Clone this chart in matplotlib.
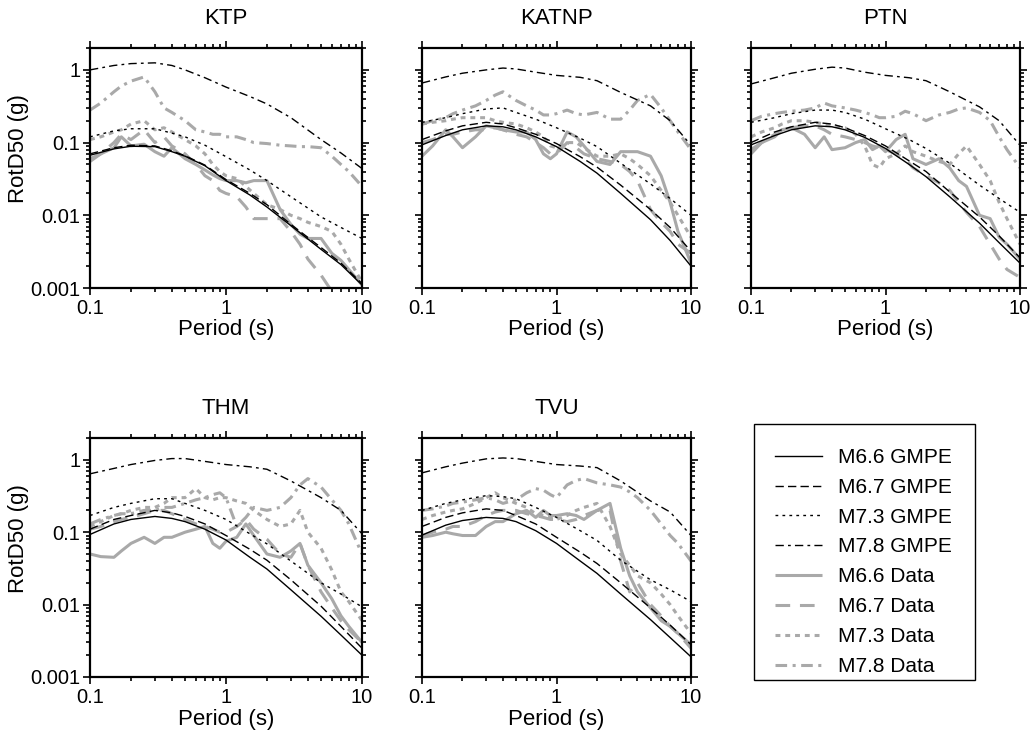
import numpy as np
import matplotlib
matplotlib.use("Agg")
import matplotlib.pyplot as plt
from matplotlib.lines import Line2D
from matplotlib.patches import Rectangle
from matplotlib.ticker import LogLocator, FixedLocator, FixedFormatter, NullFormatter

plt.rcParams["font.family"] = ["Liberation Sans", "DejaVu Sans"]

""" Data read off the figure """

stations = ["KTP", "KATNP", "PTN", "THM", "TVU"]

# period grid for the GMPE curves (s)
t_gmpe = [0.1, 0.15, 0.2, 0.3, 0.4, 0.5, 0.7, 1.0, 1.5, 2.0, 3.0, 5.0, 7.0, 10.0]

ktp_g66 = [0.067, 0.082, 0.089, 0.088, 0.075, 0.065, 0.048, 0.030, 0.019, 0.013, 0.0072, 0.0034, 0.0021, 0.0011]
ktp_g67 = [0.070, 0.085, 0.092, 0.090, 0.077, 0.066, 0.049, 0.031, 0.020, 0.014, 0.0075, 0.0036, 0.0022, 0.00115]
ktp_g73 = [0.12, 0.145, 0.155, 0.155, 0.135, 0.12, 0.092, 0.064, 0.042, 0.030, 0.018, 0.0095, 0.0068, 0.0048]
ktp_g78 = [1.0, 1.15, 1.22, 1.25, 1.15, 1.0, 0.78, 0.58, 0.43, 0.34, 0.22, 0.11, 0.072, 0.044]

katnp_g66 = [0.093, 0.125, 0.15, 0.17, 0.165, 0.15, 0.12, 0.088, 0.055, 0.038, 0.020, 0.0087, 0.0045, 0.0020]
katnp_g67 = [0.11, 0.145, 0.17, 0.19, 0.18, 0.16, 0.13, 0.097, 0.064, 0.046, 0.026, 0.012, 0.0068, 0.0032]
katnp_g73 = [0.19, 0.22, 0.25, 0.29, 0.30, 0.26, 0.21, 0.16, 0.115, 0.088, 0.052, 0.027, 0.017, 0.010]
katnp_g78 = [0.66, 0.80, 0.90, 1.0, 1.06, 1.03, 0.93, 0.84, 0.79, 0.71, 0.49, 0.32, 0.20, 0.092]

ptn_g66 = [0.093, 0.125, 0.15, 0.17, 0.165, 0.15, 0.118, 0.083, 0.050, 0.034, 0.018, 0.0078, 0.0042, 0.0022]
ptn_g67 = [0.10, 0.14, 0.165, 0.19, 0.18, 0.16, 0.125, 0.09, 0.056, 0.040, 0.021, 0.0095, 0.0052, 0.0026]
ptn_g73 = [0.19, 0.22, 0.25, 0.28, 0.28, 0.26, 0.21, 0.155, 0.11, 0.083, 0.052, 0.026, 0.017, 0.011]
ptn_g78 = [0.64, 0.78, 0.90, 1.02, 1.09, 1.06, 0.93, 0.84, 0.78, 0.71, 0.50, 0.31, 0.20, 0.092]

thm_g66 = [0.093, 0.13, 0.15, 0.165, 0.155, 0.14, 0.11, 0.078, 0.045, 0.031, 0.016, 0.0069, 0.0038, 0.002]
thm_g67 = [0.11, 0.15, 0.17, 0.20, 0.185, 0.165, 0.13, 0.09, 0.058, 0.041, 0.022, 0.0095, 0.0050, 0.0025]
thm_g73 = [0.17, 0.22, 0.25, 0.29, 0.29, 0.25, 0.20, 0.15, 0.095, 0.069, 0.040, 0.020, 0.014, 0.0093]
thm_g78 = [0.64, 0.76, 0.86, 0.98, 1.04, 1.04, 0.95, 0.86, 0.80, 0.74, 0.51, 0.30, 0.20, 0.095]

tvu_g66 = [0.091, 0.125, 0.145, 0.16, 0.155, 0.14, 0.105, 0.07, 0.040, 0.027, 0.014, 0.0062, 0.0035, 0.0019]
tvu_g67 = [0.12, 0.16, 0.185, 0.21, 0.20, 0.17, 0.13, 0.085, 0.053, 0.037, 0.020, 0.009, 0.0052, 0.0028]
tvu_g73 = [0.20, 0.25, 0.28, 0.32, 0.31, 0.29, 0.22, 0.16, 0.105, 0.077, 0.041, 0.022, 0.016, 0.011]
tvu_g78 = [0.66, 0.80, 0.90, 1.03, 1.06, 1.04, 0.95, 0.86, 0.82, 0.78, 0.51, 0.27, 0.19, 0.09]

# period grid for the recorded data (s)
t_data = [0.1, 0.12, 0.15, 0.17, 0.2, 0.25, 0.3, 0.35, 0.4, 0.5, 0.6, 0.7, 0.8, 0.9,
          1.0, 1.2, 1.4, 1.6, 2.0, 2.5, 3.0, 3.5, 4.0, 5.0, 6.0, 7.0, 8.0, 10.0]

ktp_d66 = [0.06, 0.07, 0.085, 0.12, 0.09, 0.095, 0.075, 0.065, 0.085, 0.06, 0.05, 0.042, 0.036, 0.032,
           0.03, 0.03, 0.028, 0.03, 0.03, 0.012, 0.0075, 0.0055, 0.0048, 0.0048, 0.003, 0.0024, 0.0018, 0.0011]
ktp_d67 = [0.055, 0.07, 0.1, 0.13, 0.11, 0.15, 0.1, 0.12, 0.09, 0.07, 0.05, 0.035, 0.03, 0.022,
           0.02, 0.018, 0.013, 0.009, 0.009, 0.009, 0.006, 0.004, 0.0025, 0.0015, 0.0009, 0.0006, 0.0004, 0.0003]
ktp_d73 = [0.11, 0.12, 0.14, 0.15, 0.18, 0.2, 0.15, 0.16, 0.14, 0.11, 0.09, 0.07, 0.05, 0.04,
           0.035, 0.032, 0.025, 0.02, 0.014, 0.012, 0.01, 0.009, 0.008, 0.007, 0.006, 0.004, 0.0025, 0.0012]
ktp_d78 = [0.28, 0.35, 0.5, 0.6, 0.7, 0.8, 0.5, 0.3, 0.26, 0.2, 0.15, 0.14, 0.13, 0.13,
           0.12, 0.12, 0.11, 0.1, 0.097, 0.092, 0.09, 0.088, 0.088, 0.085, 0.065, 0.05, 0.04, 0.025]

katnp_d66 = [0.065, 0.09, 0.15, 0.12, 0.085, 0.12, 0.17, 0.16, 0.15, 0.14, 0.14, 0.11, 0.07, 0.06,
             0.07, 0.14, 0.12, 0.09, 0.055, 0.05, 0.075, 0.075, 0.075, 0.065, 0.035, 0.015, 0.006, 0.0022]
katnp_d67 = [0.10, 0.11, 0.13, 0.13, 0.14, 0.15, 0.15, 0.16, 0.15, 0.13, 0.12, 0.1, 0.085, 0.07,
             0.07, 0.1, 0.085, 0.07, 0.06, 0.055, 0.05, 0.04, 0.03, 0.012, 0.008, 0.006, 0.004, 0.003]
katnp_d73 = [0.18, 0.19, 0.2, 0.21, 0.22, 0.22, 0.22, 0.2, 0.19, 0.18, 0.16, 0.14, 0.12, 0.09,
             0.085, 0.1, 0.1, 0.085, 0.065, 0.065, 0.07, 0.06, 0.05, 0.035, 0.022, 0.015, 0.01, 0.005]
katnp_d78 = [0.18, 0.2, 0.22, 0.25, 0.28, 0.32, 0.38, 0.45, 0.5, 0.38, 0.32, 0.28, 0.24, 0.24,
             0.25, 0.28, 0.25, 0.24, 0.26, 0.21, 0.21, 0.28, 0.38, 0.46, 0.3, 0.2, 0.14, 0.08]

ptn_d66 = [0.07, 0.1, 0.12, 0.15, 0.16, 0.13, 0.085, 0.12, 0.08, 0.085, 0.1, 0.11, 0.08, 0.09,
           0.075, 0.11, 0.13, 0.06, 0.05, 0.06, 0.045, 0.03, 0.025, 0.01, 0.009, 0.005, 0.004, 0.0025]
ptn_d67 = [0.08, 0.1, 0.13, 0.15, 0.16, 0.17, 0.17, 0.15, 0.13, 0.12, 0.11, 0.1, 0.09, 0.085,
           0.08, 0.07, 0.06, 0.045, 0.035, 0.028, 0.022, 0.015, 0.011, 0.007, 0.004, 0.0025, 0.0018, 0.0014]
ptn_d73 = [0.12, 0.14, 0.16, 0.18, 0.2, 0.2, 0.19, 0.18, 0.17, 0.16, 0.13, 0.09, 0.05, 0.045,
           0.06, 0.07, 0.09, 0.075, 0.065, 0.055, 0.05, 0.07, 0.09, 0.05, 0.03, 0.015, 0.009, 0.004]
ptn_d78 = [0.2, 0.23, 0.25, 0.26, 0.27, 0.28, 0.3, 0.35, 0.32, 0.3, 0.28, 0.26, 0.24, 0.22,
           0.22, 0.23, 0.27, 0.25, 0.2, 0.24, 0.26, 0.29, 0.3, 0.26, 0.2, 0.12, 0.08, 0.045]

thm_d66 = [0.05, 0.046, 0.045, 0.055, 0.07, 0.085, 0.07, 0.085, 0.085, 0.1, 0.11, 0.12, 0.07, 0.06,
           0.075, 0.085, 0.13, 0.09, 0.05, 0.045, 0.055, 0.07, 0.035, 0.02, 0.012, 0.007, 0.005, 0.003]
thm_d67 = [0.11, 0.12, 0.14, 0.15, 0.16, 0.18, 0.2, 0.2, 0.18, 0.15, 0.13, 0.12, 0.11, 0.1,
           0.1, 0.12, 0.15, 0.11, 0.08, 0.05, 0.045, 0.07, 0.035, 0.015, 0.009, 0.006, 0.0045, 0.003]
thm_d73 = [0.12, 0.14, 0.17, 0.18, 0.2, 0.22, 0.22, 0.25, 0.3, 0.3, 0.4, 0.3, 0.28, 0.3,
           0.3, 0.27, 0.25, 0.2, 0.15, 0.12, 0.13, 0.2, 0.1, 0.06, 0.03, 0.015, 0.011, 0.006]
thm_d78 = [0.13, 0.15, 0.17, 0.18, 0.18, 0.2, 0.2, 0.22, 0.22, 0.25, 0.28, 0.3, 0.33, 0.35,
           0.3, 0.12, 0.16, 0.22, 0.2, 0.22, 0.3, 0.45, 0.55, 0.42, 0.28, 0.2, 0.13, 0.05]

tvu_d66 = [0.085, 0.09, 0.1, 0.095, 0.09, 0.09, 0.12, 0.14, 0.14, 0.18, 0.2, 0.16, 0.2, 0.17,
           0.17, 0.18, 0.17, 0.15, 0.2, 0.25, 0.06, 0.025, 0.015, 0.009, 0.006, 0.005, 0.004, 0.0028]
tvu_d67 = [0.09, 0.1, 0.11, 0.12, 0.12, 0.14, 0.17, 0.19, 0.2, 0.2, 0.18, 0.17, 0.16, 0.15,
           0.15, 0.14, 0.15, 0.17, 0.2, 0.2, 0.04, 0.015, 0.02, 0.01, 0.007, 0.005, 0.004, 0.0025]
tvu_d73 = [0.15, 0.17, 0.19, 0.2, 0.21, 0.25, 0.3, 0.35, 0.3, 0.25, 0.22, 0.18, 0.17, 0.16,
           0.15, 0.17, 0.2, 0.22, 0.25, 0.12, 0.05, 0.035, 0.025, 0.02, 0.014, 0.01, 0.007, 0.004]
tvu_d78 = [0.2, 0.21, 0.23, 0.25, 0.26, 0.28, 0.3, 0.28, 0.25, 0.28, 0.35, 0.4, 0.38, 0.33,
           0.3, 0.45, 0.52, 0.55, 0.48, 0.45, 0.42, 0.36, 0.3, 0.2, 0.13, 0.09, 0.07, 0.04]

gmpe = {
    "KTP": [ktp_g66, ktp_g67, ktp_g73, ktp_g78],
    "KATNP": [katnp_g66, katnp_g67, katnp_g73, katnp_g78],
    "PTN": [ptn_g66, ptn_g67, ptn_g73, ptn_g78],
    "THM": [thm_g66, thm_g67, thm_g73, thm_g78],
    "TVU": [tvu_g66, tvu_g67, tvu_g73, tvu_g78],
}
data = {
    "KTP": [ktp_d66, ktp_d67, ktp_d73, ktp_d78],
    "KATNP": [katnp_d66, katnp_d67, katnp_d73, katnp_d78],
    "PTN": [ptn_d66, ptn_d67, ptn_d73, ptn_d78],
    "THM": [thm_d66, thm_d67, thm_d73, thm_d78],
    "TVU": [tvu_d66, tvu_d67, tvu_d73, tvu_d78],
}

mags = ["M6.6", "M6.7", "M7.3", "M7.8"]

""" Styles """

gray = "#a9a9a9"
gmpe_styles = ["-", (0, (6, 3)), (0, (2, 3)), (0, (6, 3, 2, 3))]
data_styles = ["-", (0, (4.8, 3.2)), (0, (1.6, 1.6)), (0, (3.8, 1.8, 1.0, 1.8))]
gmpe_lw = 1.0
data_lw = 2.2

W, H = 1034, 742
fig = plt.figure(figsize=(W / 100, H / 100), dpi=100)

# axes boxes in pixels: left, top, right, bottom
boxes = [
    (90, 48, 362, 288),
    (422, 48, 691, 288),
    (751, 48, 1020, 288),
    (90, 438, 362, 677),
    (422, 438, 691, 677),
]

for i, (st, (l, t, r, b)) in enumerate(zip(stations, boxes)):
    ax = fig.add_axes([l / W, 1 - b / H, (r - l) / W, (b - t) / H])
    ax.set_xscale("log")
    ax.set_yscale("log")

    # data first so GMPE lines sit on top
    for vals, ls in zip(data[st], data_styles):
        ax.plot(t_data, vals, color=gray, lw=data_lw, ls=ls,
                solid_capstyle="butt", dash_capstyle="butt")
    for vals, ls in zip(gmpe[st], gmpe_styles):
        ax.plot(t_gmpe, vals, color="black", lw=gmpe_lw, ls=ls)

    ax.set_xlim(0.1, 10)
    ax.set_ylim(0.001, 2)

    ax.xaxis.set_major_locator(FixedLocator([0.1, 1, 10]))
    ax.xaxis.set_major_formatter(FixedFormatter(["0.1", "1", "10"]))
    ax.xaxis.set_minor_locator(LogLocator(base=10, subs=np.arange(2, 10), numticks=20))
    ax.xaxis.set_minor_formatter(NullFormatter())
    ax.yaxis.set_major_locator(FixedLocator([0.001, 0.01, 0.1, 1]))
    ax.yaxis.set_major_formatter(FixedFormatter(["0.001", "0.01", "0.1", "1"]))
    ax.yaxis.set_minor_locator(LogLocator(base=10, subs=np.arange(2, 10), numticks=20))
    ax.yaxis.set_minor_formatter(NullFormatter())

    ax.tick_params(which="both", direction="out", top=True, right=True,
                   width=1.2, labelsize=14.5)
    ax.tick_params(which="major", length=5)
    ax.tick_params(which="minor", length=3)
    ax.tick_params(axis="x", pad=3)
    ax.tick_params(axis="y", pad=2)
    for sp in ax.spines.values():
        sp.set_linewidth(1.6)

    ax.set_xlabel("Period (s)", fontsize=16, labelpad=1)
    if i in (0, 3):
        ax.set_ylabel("RotD50 (g)", fontsize=16)
        ax.yaxis.set_label_coords(-0.225, 0.58)
    else:
        ax.tick_params(labelleft=False)
    ax.set_title(st, fontsize=16, pad=17)

""" Legend """

handles = []
labels = []
for m, ls in zip(mags, gmpe_styles):
    handles.append(Line2D([], [], color="black", lw=gmpe_lw, ls=ls))
    labels.append(m + " GMPE")
for m, ls in zip(mags, data_styles):
    handles.append(Line2D([], [], color=gray, lw=data_lw, ls=ls,
                          solid_capstyle="butt", dash_capstyle="butt"))
    labels.append(m + " Data")

fig.patches.append(Rectangle((754 / W, 1 - 680 / H), (975 - 754) / W, (680 - 424) / H,
                             transform=fig.transFigure, fill=False,
                             edgecolor="black", lw=1.0))
fig.legend(handles, labels, loc="upper left", bbox_to_anchor=(775 / W, 1 - 448 / H),
           frameon=False, fontsize=15, handlelength=2.25, handletextpad=0.75,
           labelspacing=0.52, borderpad=0, borderaxespad=0)

fig.savefig("out.png", dpi=100)
